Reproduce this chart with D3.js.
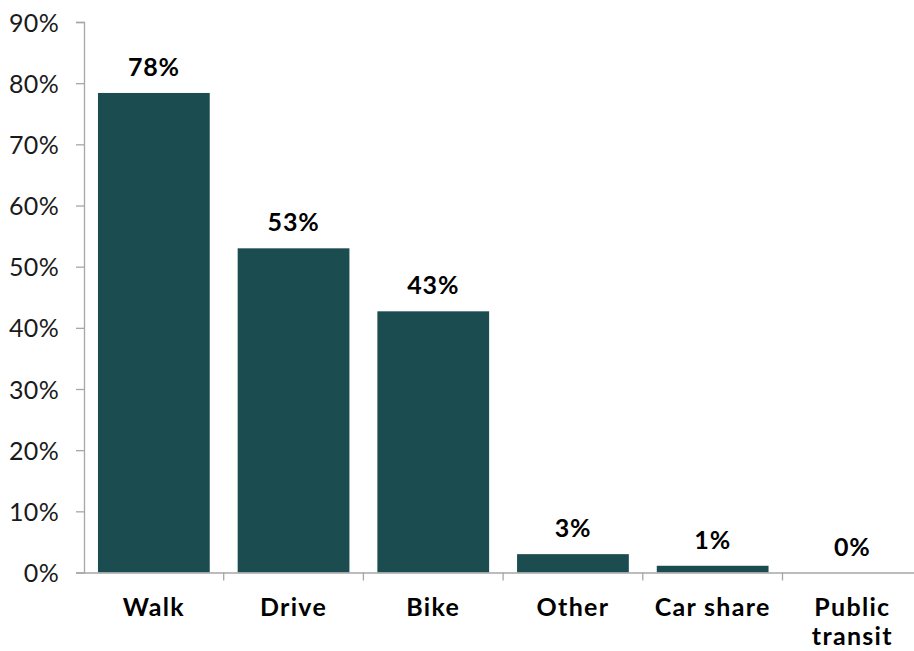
<!DOCTYPE html>
<html><head><meta charset="utf-8">
<script src="https://cdn.jsdelivr.net/npm/d3@7"></script>
<style>body{margin:0;background:#fff}</style>
</head><body>
<svg id="c" width="914" height="651"></svg>
<script>
const categories = ["Walk", "Drive", "Bike", "Other", "Car share", "Public transit"];
const values = [78.4, 53.0, 42.7, 3.0, 1.1, 0];
const yTicks = [0, 10, 20, 30, 40, 50, 60, 70, 80, 90];

const FONT = "Lato, 'Open Sans', sans-serif";
const svg = d3.select("#c");
const x = d3.scaleBand().domain(categories).range([84, 922.2]).paddingInner(0.2).paddingOuter(0.1);
const y = d3.scaleLinear().domain([0, 90]).range([572.5, 22]);

// y axis
const ya = svg.append("g").attr("transform", "translate(84,0)")
  .call(d3.axisLeft(y).tickValues(yTicks).tickSize(8).tickPadding(17).tickFormat(d => d + "%"));
ya.select(".domain").attr("stroke", "#a6a6a6").attr("stroke-width", 1.3);
ya.selectAll(".tick line").attr("stroke", "#a6a6a6").attr("stroke-width", 1.3);
ya.selectAll(".tick text").attr("font-family", FONT).attr("font-size", 25).attr("letter-spacing", 0.3)
  .attr("fill", "#1a1a1a").attr("dy", "0.36em");

// bars
svg.append("g").selectAll("rect").data(values).join("rect")
  .attr("x", (d, i) => x(categories[i]))
  .attr("width", x.bandwidth())
  .attr("y", d => y(d))
  .attr("height", d => y(0) - y(d))
  .attr("fill", "#1b4c4f");

// x axis
const xa = svg.append("g").attr("transform", "translate(0,572.5)")
  .call(d3.axisBottom(x).tickSize(0).tickFormat(""));
xa.select(".domain").attr("stroke", "#a6a6a6").attr("stroke-width", 1.3);
xa.selectAll(".tick").remove();
const bounds = categories.map((c, i) => x(c) - x.step() * x.paddingInner() / 2).slice(1)
  .concat([x(categories[categories.length-1]) + x.bandwidth() + x.step()*x.paddingInner()/2]);
xa.selectAll("line.sep").data(bounds).join("line").attr("class", "sep")
  .attr("x1", d => d).attr("x2", d => d).attr("y1", 0).attr("y2", 8)
  .attr("stroke", "#a6a6a6").attr("stroke-width", 1.3);

// category labels
const cl = svg.append("g").selectAll("text").data(categories).join("text")
  .attr("x", d => x(d) + x.bandwidth() / 2)
  .attr("y", 616)
  .attr("text-anchor", "middle")
  .attr("font-family", FONT).attr("font-weight", "bold").attr("font-size", 25)
  .attr("letter-spacing", 1.3).attr("fill", "#000");
cl.each(function(d) {
  const words = d === "Public transit" ? ["Public", "transit"] : [d];
  const t = d3.select(this);
  words.forEach((w, k) => t.append("tspan").attr("x", x(d) + x.bandwidth() / 2).attr("dy", k ? 29 : 0).text(w));
});

// value labels
svg.append("g").selectAll("text").data(values).join("text")
  .attr("x", (d, i) => x(categories[i]) + x.bandwidth() / 2)
  .attr("y", d => y(d) - 17)
  .attr("text-anchor", "middle")
  .attr("font-family", FONT).attr("font-weight", "bold").attr("font-size", 25)
  .attr("letter-spacing", 0.8).attr("fill", "#000")
  .text(d => Math.round(d) + "%");
</script>
</body></html>
